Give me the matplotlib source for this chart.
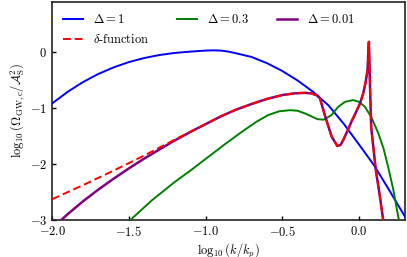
import matplotlib
matplotlib.use("Agg")
import matplotlib.pyplot as plt

plt.rcParams['font.family'] = 'serif'
plt.rcParams['font.serif'] = ['cmr10', 'DejaVu Serif']
plt.rcParams['mathtext.fontset'] = 'cm'
plt.rcParams['axes.formatter.use_mathtext'] = True
plt.rcParams['axes.unicode_minus'] = True

# Delta = 1 (blue)
x_d1 = [-2.0, -1.9, -1.8, -1.7, -1.6, -1.5, -1.4, -1.3, -1.2, -1.1, -1.0, -0.95, -0.9,
        -0.85, -0.8, -0.7, -0.6, -0.5, -0.4, -0.3, -0.2, -0.1, 0.0, 0.1, 0.2, 0.3]
y_d1 = [-0.92, -0.715, -0.54, -0.395, -0.277, -0.182, -0.109, -0.055, -0.018, 0.005, 0.024,
        0.028, 0.024, 0.005, -0.025, -0.09, -0.20, -0.34, -0.51, -0.71, -0.95, -1.28, -1.65,
        -2.03, -2.48, -2.94]

# Delta = 0.3 (green)
x_d03 = [-1.50, -1.49, -1.35, -1.20, -1.09, -0.98, -0.87, -0.76, -0.67, -0.59, -0.52, -0.45,
         -0.40, -0.35, -0.31, -0.27, -0.23, -0.18, -0.135, -0.09, -0.037, 0.0, 0.039, 0.08,
         0.126, 0.16, 0.19, 0.225, 0.256, 0.27]
y_d03 = [-3.02, -3.0, -2.65, -2.32, -2.10, -1.87, -1.64, -1.42, -1.25, -1.125, -1.06, -1.04,
         -1.05, -1.10, -1.15, -1.20, -1.21, -1.13, -0.98, -0.89, -0.86, -0.89, -0.98, -1.16,
         -1.45, -1.72, -2.05, -2.47, -2.94, -3.1]

# Delta = 0.01 (purple)
x_d001 = [-1.96, -1.94, -1.9, -1.8, -1.7, -1.6, -1.5, -1.4, -1.3, -1.2, -1.1, -1.0, -0.9,
          -0.8, -0.7, -0.6, -0.5, -0.42, -0.35, -0.31, -0.27, -0.254, -0.22, -0.178, -0.141,
          -0.12, -0.102, -0.075, -0.048, -0.02, 0.007, 0.028, 0.045, 0.056, 0.061, 0.065,
          0.072, 0.080, 0.11, 0.135, 0.158, 0.165]
y_d001 = [-3.05, -3.0, -2.90, -2.67, -2.46, -2.265, -2.08, -1.905, -1.74, -1.58, -1.43, -1.29,
          -1.15, -1.03, -0.93, -0.84, -0.77, -0.74, -0.73, -0.74, -0.78, -0.83, -1.15, -1.51,
          -1.68, -1.66, -1.57, -1.41, -1.24, -1.08, -0.92, -0.74, -0.52, -0.32, -0.02, 0.18,
          -0.6, -1.35, -2.11, -2.55, -3.0, -3.1]

# delta-function (red dashed)
x_df = [-2.0, -1.8, -1.6, -1.4, -1.2, -1.0, -0.9, -0.8, -0.7, -0.6, -0.5, -0.42, -0.35,
        -0.31, -0.27, -0.254, -0.22, -0.178, -0.141, -0.12, -0.102, -0.075, -0.048, -0.02,
        0.007, 0.028, 0.045, 0.056, 0.061, 0.065, 0.072, 0.080, 0.11, 0.135, 0.158, 0.165]
y_df = [-2.63, -2.38, -2.12, -1.85, -1.565, -1.29, -1.15, -1.03, -0.93, -0.84, -0.77, -0.74,
        -0.73, -0.74, -0.78, -0.83, -1.15, -1.51, -1.68, -1.66, -1.57, -1.41, -1.24, -1.08,
        -0.92, -0.74, -0.52, -0.32, -0.02, 0.18, -0.6, -1.35, -2.11, -2.55, -3.0, -3.1]

x_ticks = [-2.0, -1.5, -1.0, -0.5, 0.0]
y_ticks = [0, -1, -2, -3]

fig = plt.figure(figsize=(4.07, 2.57), dpi=100)
ax = fig.add_axes([0.128, 0.144, 0.867, 0.848])

ax.plot(x_d1, y_d1, color='#0000ff', lw=1.4, label=r'$\Delta = 1$', zorder=3)
ax.plot(x_d03, y_d03, color='#008000', lw=1.4, label=r'$\Delta = 0.3$', zorder=3)
ax.plot(x_d001, y_d001, color='#800080', lw=1.8, label=r'$\Delta = 0.01$', zorder=3)
ax.plot(x_df, y_df, color='#ff0000', lw=1.4, ls=(0, (4, 2)), label=r'$\delta$-function', zorder=4)

ax.set_xlim(-2.0, 0.3)
ax.set_ylim(-3.0, 0.89)
ax.set_xticks(x_ticks)
ax.set_yticks(y_ticks)
ax.tick_params(direction='in', length=3, width=1, labelsize=9, top=False, right=False)
for s in ax.spines.values():
    s.set_linewidth(1.2)
    s.set_color('#222222')

ax.set_xlabel(r'$\log_{10}(k/k_p)$', fontsize=9, labelpad=2)
ax.set_ylabel(r'$\log_{10}(\Omega_{\rm GW,c}/\mathcal{A}_{\rm S}^2)$', fontsize=9, labelpad=2)

h, l = ax.get_legend_handles_labels()
order = [0, 3, 1, 2]
ax.legend([h[i] for i in order], [l[i] for i in order], ncol=3, loc='upper left',
          frameon=False, fontsize=9, handlelength=1.6, handletextpad=0.8,
          columnspacing=2.2, labelspacing=0.55, borderaxespad=0.5)

fig.savefig('out.png', dpi=100)
